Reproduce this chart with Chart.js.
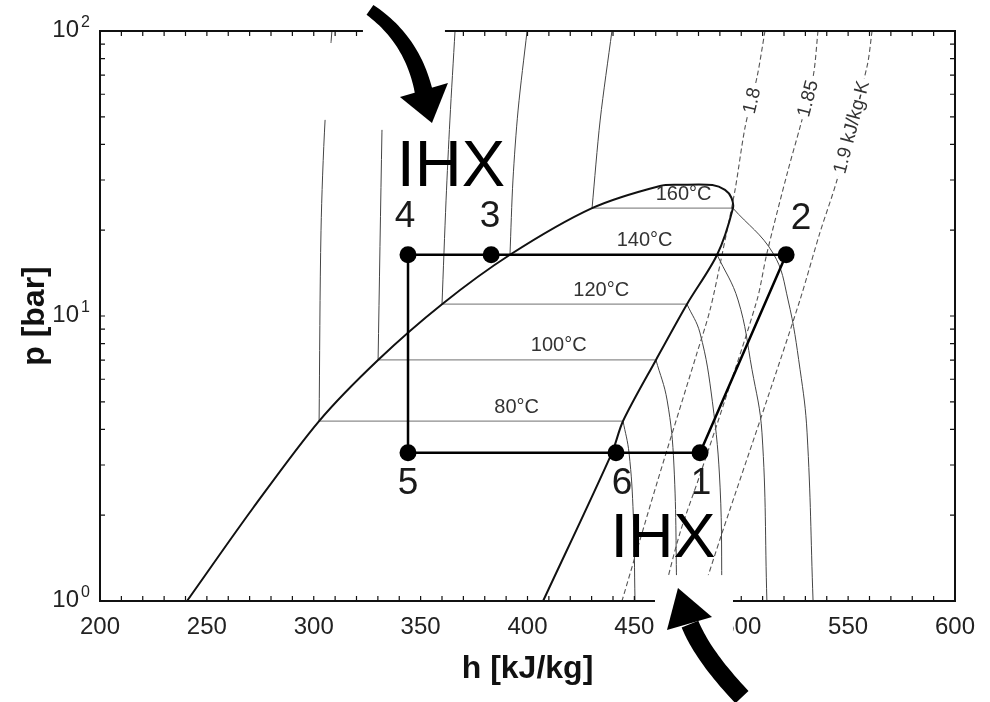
<!DOCTYPE html>
<html>
<head>
<meta charset="utf-8">
<script src="https://cdn.jsdelivr.net/npm/chart.js@4.4.1/dist/chart.umd.min.js"></script>
<style>
  body { margin: 0; background: #fff; }
  canvas { display: block; }
</style>
</head>
<body>
<canvas id="phChart" width="990" height="702"></canvas>
<script>
// saturation dome: liquid side up over the critical region, then vapour side down
var domeH = [240.7, 271.6, 302.5, 330.1, 360.0, 391.8, 430.2, 462.0, 472.0, 486.5, 492.4, 495.4, 496.1, 488.7, 474.6, 460.1, 444.7, 439.5, 407.3];
var domeP = [1.0, 2.12, 4.28, 7.01, 11.0, 16.4, 23.9, 28.6, 28.85, 28.8, 27.7, 26.0, 23.9, 16.4, 11.0, 7.01, 4.28, 3.31, 1.0];

// isotherms
var tempLabels = ['80°C', '100°C', '120°C', '140°C', '160°C'];
var tempSatP = [4.28, 7.01, 11.0, 16.4, 23.9];
var tempLiqH = [302.5, 330.1, 360.0, 391.8, 430.2];
var tempVapH = [444.7, 460.1, 474.6, 488.7, 496.1];

// isotherm branches in the liquid region (going up)
var liqIsoH = [[302.5, 303.4, 305.3, 308.5], [330.1, 331.9, 332.9], [360.0, 361.9, 363.7, 366.1], [391.8, 393.2, 395.6, 399.8], [430.2, 434.0, 439.5]];
var liqIsoP = [[4.28, 20.0, 48.7, 100], [7.01, 43.9, 100], [11.0, 25.5, 48.7, 100], [16.4, 30.0, 52.8, 100], [23.9, 48.7, 100]];

// isotherm branches in the superheated region (going down)
var vapIsoH = [[444.7, 447.5, 449.5, 450.3], [460.1, 465.3, 468.5, 469.9], [474.6, 480.7, 486.5, 490.1, 491.0], [488.7, 498.5, 505.0, 509.7, 512.0], [496.1, 514.9, 521.9, 527.5, 530.8, 533.6]];
var vapIsoP = [[4.28, 3.31, 2.0, 1.0], [7.01, 5.07, 3.0, 1.0], [11.0, 8.72, 5.0, 2.51, 1.0], [16.4, 11.38, 6.5, 3.89, 1.0], [23.9, 16.6, 11.38, 6.5, 3.89, 1.0]];

// isentropes
var entropyLabels = ['1.8', '1.85', '1.9 kJ/kg-K'];
var entropyH = [[511.1, 507.4, 501.8, 497.1, 491.0, 485.4, 479.3, 460.6, 444.2],
                [535.9, 533.6, 527.5, 521.9, 512.0, 507.4, 492.4, 480.7, 471.3, 462.9],
                [561.2, 558.8, 544.8, 536.8, 527.5, 512.0, 491.0, 480.7]];
var entropyP = [[100, 69, 46, 27.7, 16.4, 10.5, 7.42, 2.6, 1.0],
                [100, 69, 46, 32.5, 16.6, 11.4, 5.07, 2.77, 1.73, 1.0],
                [100, 74.8, 30, 19.6, 11.4, 5.07, 1.73, 1.0]];
var entropyLabelP = [57, 58, 46];

// cycle states 4-3-2-1-6-5
var cycleLabels = ['4', '3', '2', '1', '6', '5'];
var cycleH = [344.1, 383.0, 521.0, 480.7, 441.4, 344.1];
var cycleP = [16.4, 16.4, 16.4, 3.31, 3.31, 3.31];

// IHX arrow tips
var ihxH = [355.3, 470.4];
var ihxP = [47.6, 1.11];

var xTickLabels = [200, 250, 300, 350, 400, 450, 500, 550, 600];
var yTickExponents = [0, 1, 2];

var FONT = "'Liberation Sans', Arial, Helvetica, sans-serif";
Chart.defaults.font.family = FONT;

function pts(hs, ps) {
    return hs.map(function (h, i) { return { x: h, y: ps[i] }; });
}

function lineSet(data, color, width, tension, order, dash) {
    return {
        data: data,
        showLine: true,
        borderColor: color,
        borderWidth: width,
        borderDash: dash || [],
        pointRadius: 0,
        tension: tension,
        order: order
    };
}

var datasets = [];

// cycle
datasets.push({
    data: pts(cycleH.concat([cycleH[0]]), cycleP.concat([cycleP[0]])),
    showLine: true,
    borderColor: '#000',
    borderWidth: 2.5,
    pointRadius: function (c) { return c.dataIndex < cycleLabels.length ? 8.5 : 0; },
    pointBackgroundColor: '#000',
    pointBorderWidth: 0,
    tension: 0,
    order: 0
});

// dome
datasets.push(lineSet(pts(domeH, domeP), '#111', 2, 0.3, 1));

for (var i = 0; i < tempLabels.length; i++) {
    datasets.push(lineSet(pts([tempLiqH[i], tempVapH[i]], [tempSatP[i], tempSatP[i]]), '#8c8c8c', 1.3, 0, 4));
    datasets.push(lineSet(pts(liqIsoH[i], liqIsoP[i]), '#444', 1, 0.3, 3));
    datasets.push(lineSet(pts(vapIsoH[i], vapIsoP[i]), '#444', 1, 0.4, 3));
}

for (var j = 0; j < entropyLabels.length; j++) {
    datasets.push(lineSet(pts(entropyH[j], entropyP[j]), '#555', 1.1, 0.3, 2, [5, 3]));
}

function px(chart, h, p) {
    return { x: chart.scales.x.getPixelForValue(h), y: chart.scales.y.getPixelForValue(p) };
}

// curved black arrow made of a tapered quadratic shaft and a triangular head
function drawArrow(ctx, tip, headA, headB, s0, c, s1, w0, w1) {
    var n = 30, left = [], right = [];
    for (var i = 0; i <= n; i++) {
        var t = i / n, mt = 1 - t;
        var x = mt * mt * s0[0] + 2 * mt * t * c[0] + t * t * s1[0];
        var y = mt * mt * s0[1] + 2 * mt * t * c[1] + t * t * s1[1];
        var dx = 2 * mt * (c[0] - s0[0]) + 2 * t * (s1[0] - c[0]);
        var dy = 2 * mt * (c[1] - s0[1]) + 2 * t * (s1[1] - c[1]);
        var len = Math.sqrt(dx * dx + dy * dy);
        var w = (w0 + (w1 - w0) * t) / 2;
        left.push([tip.x + x - dy / len * w, tip.y + y + dx / len * w]);
        right.push([tip.x + x + dy / len * w, tip.y + y - dx / len * w]);
    }
    ctx.beginPath();
    left.forEach(function (p, k) { if (k) ctx.lineTo(p[0], p[1]); else ctx.moveTo(p[0], p[1]); });
    right.reverse().forEach(function (p) { ctx.lineTo(p[0], p[1]); });
    ctx.closePath();
    ctx.fill();
    ctx.beginPath();
    ctx.moveTo(tip.x, tip.y);
    ctx.lineTo(tip.x + headA[0], tip.y + headA[1]);
    ctx.lineTo(tip.x + headB[0], tip.y + headB[1]);
    ctx.closePath();
    ctx.fill();
}

var phDecor = {
    id: 'phDecor',
    afterDatasetsDraw: function (chart) {
        var ctx = chart.ctx;
        ctx.save();
        ctx.textAlign = 'center';
        ctx.textBaseline = 'middle';

        // temperature labels above the two-phase lines
        ctx.font = '20px ' + FONT;
        ctx.fillStyle = '#333';
        tempLabels.forEach(function (t, i) {
            var a = px(chart, tempLiqH[i], tempSatP[i]);
            var b = px(chart, tempVapH[i], tempSatP[i]);
            ctx.fillText(t, a.x + 0.65 * (b.x - a.x), a.y - 14);
        });

        // isentrope labels, written along the dashed lines
        ctx.font = '19px ' + FONT;
        entropyLabels.forEach(function (t, i) {
            var hs = entropyH[i], ps = entropyP[i], k = 0;
            while (k < ps.length - 2 && ps[k + 1] > entropyLabelP[i]) k++;
            var p0 = px(chart, hs[k], ps[k]), p1 = px(chart, hs[k + 1], ps[k + 1]);
            var yl = chart.scales.y.getPixelForValue(entropyLabelP[i]);
            var f = (yl - p0.y) / (p1.y - p0.y);
            var xl = p0.x + f * (p1.x - p0.x);
            var ang = Math.atan2(p0.y - p1.y, p0.x - p1.x);
            var w = ctx.measureText(t).width;
            ctx.save();
            ctx.translate(xl, yl);
            ctx.rotate(ang);
            ctx.fillStyle = '#fff';
            ctx.fillRect(-w / 2 - 3, -9, w + 6, 18);
            ctx.fillStyle = '#333';
            ctx.fillText(t, 0, 1);
            ctx.restore();
        });

        // state numbers
        var offs = { '4': [-3, -38], '3': [-1, -38], '2': [15, -36], '1': [1, 31], '6': [6, 31], '5': [0, 31] };
        ctx.font = '37px ' + FONT;
        ctx.fillStyle = '#1a1a1a';
        cycleLabels.forEach(function (t, i) {
            var q = px(chart, cycleH[i], cycleP[i]);
            ctx.fillText(t, q.x + offs[t][0], q.y + offs[t][1]);
        });
        ctx.restore();
    },
    afterDraw: function (chart) {
        var ctx = chart.ctx, a = chart.chartArea, xs = chart.scales.x, ys = chart.scales.y;
        ctx.save();

        // frame and inward ticks
        ctx.strokeStyle = '#111';
        ctx.lineWidth = 2;
        ctx.strokeRect(a.left, a.top, a.right - a.left, a.bottom - a.top);
        ctx.lineWidth = 1.2;
        ctx.beginPath();
        for (var h = 200; h <= 600; h += 10) {
            var x = xs.getPixelForValue(h);
            ctx.moveTo(x, a.bottom); ctx.lineTo(x, a.bottom - 5);
            ctx.moveTo(x, a.top); ctx.lineTo(x, a.top + 5);
        }
        for (var d = 1; d < 100; d *= 10) {
            for (var m = 1; m < 10; m++) {
                var y = ys.getPixelForValue(m * d);
                ctx.moveTo(a.left, y); ctx.lineTo(a.left + 5, y);
                ctx.moveTo(a.right, y); ctx.lineTo(a.right - 5, y);
            }
        }
        ctx.stroke();

        // y tick labels 10^n
        ctx.fillStyle = '#222';
        ctx.textBaseline = 'alphabetic';
        yTickExponents.forEach(function (e) {
            var y = ys.getPixelForValue(Math.pow(10, e));
            ctx.font = '24px ' + FONT;
            ctx.textAlign = 'right';
            ctx.fillText('10', a.left - 21, y + 6);
            ctx.font = '16px ' + FONT;
            ctx.textAlign = 'left';
            ctx.fillText(String(e), a.left - 19, y - 4);
        });

        // pasted IHX arrows with their white backgrounds
        var top = px(chart, ihxH[0], ihxP[0]);
        var bot = px(chart, ihxH[1], ihxP[1]);
        ctx.fillStyle = '#fff';
        ctx.fillRect(top.x - 69, top.y - 123, 82, 130);
        ctx.fillRect(top.x - 132, top.y - 80, 63, 77);
        ctx.fillRect(bot.x - 23, bot.y - 13, 78, 127);
        ctx.fillStyle = '#000';
        drawArrow(ctx, top, [-32, -26], [16, -40], [-62, -113], [-19, -83], [-8, -30], 12, 18);
        drawArrow(ctx, bot, [-11, 42], [34, 29], [12, 36], [25, 68], [64, 109], 18, 18);

        ctx.textAlign = 'center';
        ctx.textBaseline = 'middle';
        ctx.font = '65px ' + FONT;
        ctx.fillText('IHX', top.x + 19, top.y + 45);
        ctx.font = '63px ' + FONT;
        ctx.fillText('IHX', bot.x - 15, bot.y - 48);
        ctx.restore();
    }
};

var ctx = document.getElementById('phChart').getContext('2d');
var phChart = new Chart(ctx, {
    type: 'scatter',
    data: { datasets: datasets },
    options: {
        responsive: false,
        animation: false,
        events: [],
        layout: { padding: { top: 31, right: 35, left: 0, bottom: 0 } },
        plugins: { legend: { display: false }, tooltip: { enabled: false } },
        scales: {
            x: {
                type: 'linear',
                min: 200,
                max: 600,
                afterFit: function (s) { s.height = 101; },
                afterBuildTicks: function (s) { s.ticks = xTickLabels.map(function (v) { return { value: v }; }); },
                grid: { display: false, drawTicks: false },
                border: { display: false },
                ticks: { color: '#222', font: { size: 24 }, padding: 12, maxRotation: 0, autoSkip: false },
                title: { display: true, text: 'h [kJ/kg]', color: '#111', font: { size: 32, weight: 'bold' }, padding: { top: 0, bottom: 14 } }
            },
            y: {
                type: 'logarithmic',
                min: 1,
                max: 100,
                afterFit: function (s) { s.width = 100; },
                grid: { display: false, drawTicks: false },
                border: { display: false },
                ticks: { display: false },
                title: { display: true, text: 'p [bar]', color: '#111', font: { size: 32, weight: 'bold' }, padding: { top: 16, bottom: 0 } }
            }
        }
    },
    plugins: [phDecor]
});
</script>
</body>
</html>
